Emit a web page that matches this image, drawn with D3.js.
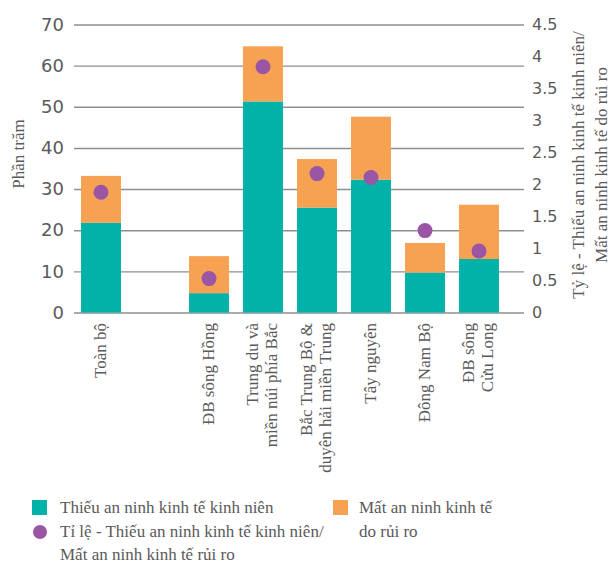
<!DOCTYPE html>
<html>
<head>
<meta charset="utf-8">
<script src="https://cdn.jsdelivr.net/npm/d3@7"></script>
<style>
  body { margin: 0; background: #fff; }
  svg { display: block; }
</style>
</head>
<body>
<div id="chart"></div>
<script>
// data (slot 1 is the empty gap after "Toàn bộ")
const categoryLabels = [
  ["Toàn bộ"],
  [],
  ["ĐB sông Hồng"],
  ["Trung du và", "miền núi phía Bắc"],
  ["Bắc Trung Bộ &", "duyên hải miền Trung"],
  ["Tây nguyên"],
  ["Đông Nam Bộ"],
  ["ĐB sông", "Cửu Long"]
]
const chronic = [21.8, null, 4.7, 51.3, 25.5, 32.3, 9.7, 13.0]
const risk = [11.4, null, 9.0, 13.4, 11.8, 15.3, 7.2, 13.2]
const ratio = [1.88, null, 0.53, 3.84, 2.17, 2.11, 1.28, 0.96]
const leftTicks = [0, 10, 20, 30, 40, 50, 60, 70]
const rightTicks = [0, 0.5, 1, 1.5, 2, 2.5, 3, 3.5, 4, 4.5]

// consts
const width = 616, height = 565
const colors = { chronic: '#00b2a8', risk: '#f7a252', ratio: '#9a56a5' }
const textColor = '#5a5a5a'
const serifFont = 'Liberation Serif'
const sansFont = 'DejaVu Sans'

const svg = d3.select('#chart')
  .append('svg')
  .attr('width', width)
  .attr('height', height)
  .style('background', '#fff')

// scales
const x = d3.scaleBand()
  .domain(d3.range(categoryLabels.length))
  .range([74, 506])
  .paddingInner(0.26)
  .paddingOuter(0.13)
const y = d3.scaleLinear().domain([0, 70]).range([312.5, 24.5])
const yRight = d3.scaleLinear().domain([0, 4.5]).range([312.5, 24.5])

// left axis + gridlines
const gridRight = 524
svg.append('g')
  .attr('transform', 'translate(74,0)')
  .call(d3.axisLeft(y).tickValues(leftTicks).tickSizeInner(-(gridRight - 74)).tickSizeOuter(0).tickPadding(10))
  .call(g => g.select('.domain').remove())
  .call(g => g.selectAll('line').attr('stroke', '#8f8f8f').attr('stroke-width', 1.4))
  .call(g => g.selectAll('text').attr('fill', textColor).attr('font-family', sansFont).attr('font-size', 18))

// right axis
svg.append('g')
  .attr('transform', `translate(${gridRight},0)`)
  .call(d3.axisRight(yRight).tickValues(rightTicks).tickSize(0).tickPadding(8).tickFormat(d => String(d)))
  .call(g => g.select('.domain').remove())
  .call(g => g.selectAll('text').attr('fill', textColor).attr('font-family', sansFont).attr('font-size', 16))

// stacked bars
const rows = chronic.map((c, i) => ({ i, chronic: c || 0, risk: risk[i] || 0 }))
const stacked = d3.stack().keys(['chronic', 'risk'])(rows)
svg.append('g')
  .selectAll('g')
  .data(stacked)
  .enter()
  .append('g')
  .attr('fill', d => colors[d.key])
  .selectAll('rect')
  .data(d => d.filter(s => chronic[s.data.i] !== null))
  .enter()
  .append('rect')
  .attr('x', d => x(d.data.i))
  .attr('width', x.bandwidth())
  .attr('y', d => y(d[1]))
  .attr('height', d => y(d[0]) - y(d[1]))

// ratio dots
svg.append('g')
  .selectAll('circle')
  .data(ratio.map((r, i) => ({ r, i })).filter(d => d.r !== null))
  .enter()
  .append('circle')
  .attr('cx', d => x(d.i) + x.bandwidth() / 2)
  .attr('cy', d => yRight(d.r))
  .attr('r', 7.5)
  .attr('fill', colors.ratio)

// category labels, rotated
const catG = svg.append('g')
categoryLabels.forEach((lines, i) => {
  if (!lines.length) return
  const cx = x(i) + x.bandwidth() / 2
  const t = catG.append('text')
    .attr('transform', `translate(${cx},323) rotate(-90)`)
    .attr('text-anchor', 'end')
    .attr('fill', textColor)
    .attr('font-family', serifFont)
    .attr('font-size', 17)
  const offsets = lines.length === 1 ? [5] : [-5, 14]
  lines.forEach((l, j) => {
    t.append('tspan').attr('x', 0).attr('y', offsets[j]).text(l)
  })
})

// axis titles
svg.append('text')
  .attr('transform', 'translate(24,154) rotate(-90)')
  .attr('text-anchor', 'middle')
  .attr('fill', textColor)
  .attr('font-family', serifFont)
  .attr('font-size', 17)
  .text('Phần trăm')

const rt = svg.append('text')
  .attr('transform', 'translate(584,165) rotate(-90)')
  .attr('text-anchor', 'middle')
  .attr('fill', textColor)
  .attr('font-family', serifFont)
  .attr('font-size', 17)
rt.append('tspan').attr('x', 0).attr('y', 0).text('Tỷ lệ - Thiếu an ninh kinh tế kinh niên/')
rt.append('tspan').attr('x', 0).attr('y', 23).text('Mất an ninh kinh tế do rủi ro')

// legend
const legend = svg.append('g')
  .attr('fill', textColor)
  .attr('font-family', serifFont)
  .attr('font-size', 17)
legend.append('rect').attr('x', 32).attr('y', 500).attr('width', 15).attr('height', 15).attr('fill', colors.chronic)
legend.append('text').attr('x', 60).attr('y', 513).text('Thiếu an ninh kinh tế kinh niên')
legend.append('circle').attr('cx', 40).attr('cy', 532).attr('r', 7).attr('fill', colors.ratio)
legend.append('text').attr('x', 60).attr('y', 537).text('Tỉ lệ - Thiếu an ninh kinh tế kinh niên/')
legend.append('text').attr('x', 60).attr('y', 560).text('Mất an ninh kinh tế rủi ro')
legend.append('rect').attr('x', 333).attr('y', 500).attr('width', 15).attr('height', 15).attr('fill', colors.risk)
legend.append('text').attr('x', 359).attr('y', 513).text('Mất an ninh kinh tế')
legend.append('text').attr('x', 359).attr('y', 537).text('do rủi ro')
</script>
</body>
</html>
